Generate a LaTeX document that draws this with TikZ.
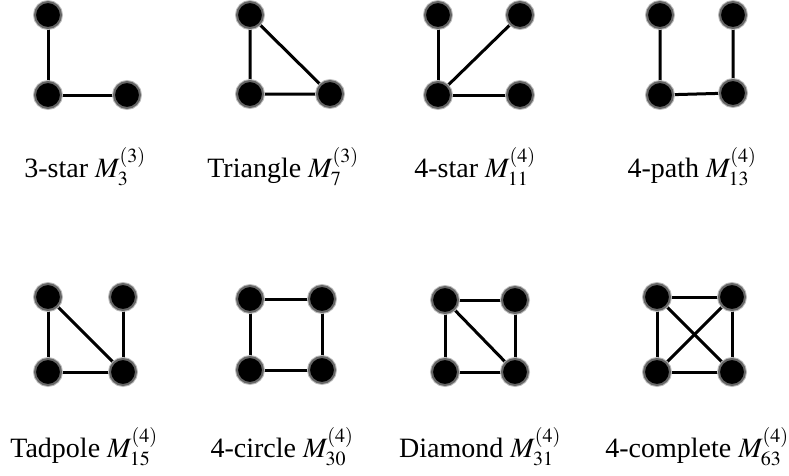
\documentclass[tikz,border=0pt]{standalone}
\usepackage{mathptmx}
\usepackage[no-math]{fontspec}
\setmainfont{Liberation Serif}
\DeclareMathSizes{28}{28}{20}{15}
\usetikzlibrary{backgrounds}
\tikzset{
  vtx/.style={circle, fill=black, draw=black!60, line width=2pt, minimum size=26pt, inner sep=0pt,
    preaction={draw=black!25, line width=4pt}},
  edg/.style={line width=3pt, black},
  lbl/.style={anchor=base, font=\fontsize{28}{32}\selectfont, inner sep=0pt}
}
\begin{document}
\begin{tikzpicture}[x=1pt, y=-1pt]
\useasboundingbox (0,0) rectangle (789,475);
% 3-star
\node[vtx] (a1) at (48,15) {};
\node[vtx] (a2) at (48,95) {};
\node[vtx] (a3) at (127,95) {};
\node[lbl] (la) at (85,177) {3-star $M_{3}^{(3)}$};
% Triangle
\node[vtx] (b1) at (250,15) {};
\node[vtx] (b2) at (250,94) {};
\node[vtx] (b3) at (330,94) {};
\node[lbl] (lb) at (283,177) {Triangle $M_{7}^{(3)}$};
% 4-star
\node[vtx] (c1) at (438,15) {};
\node[vtx] (c2) at (520,15) {};
\node[vtx] (c3) at (438,95) {};
\node[vtx] (c4) at (520,95) {};
\node[lbl] (lc) at (475,177) {4-star $M_{11}^{(4)}$};
% 4-path
\node[vtx] (d1) at (660,15) {};
\node[vtx] (d2) at (733,15) {};
\node[vtx] (d3) at (660,95) {};
\node[vtx] (d4) at (733,93) {};
\node[lbl] (ld) at (692,177) {4-path $M_{13}^{(4)}$};
% Tadpole
\node[vtx] (e1) at (48,297) {};
\node[vtx] (e2) at (123,297) {};
\node[vtx] (e3) at (48,372) {};
\node[vtx] (e4) at (123,372) {};
\node[lbl] (le) at (84,457) {Tadpole $M_{15}^{(4)}$};
% 4-circle
\node[vtx] (f1) at (250,299) {};
\node[vtx] (f2) at (322,299) {};
\node[vtx] (f3) at (250,370) {};
\node[vtx] (f4) at (322,370) {};
\node[lbl] (lf) at (282,457) {4-circle $M_{30}^{(4)}$};
% Diamond
\node[vtx] (g1) at (445,300) {};
\node[vtx] (g2) at (515,300) {};
\node[vtx] (g3) at (445,372) {};
\node[vtx] (g4) at (515,372) {};
\node[lbl] (lg) at (480,457) {Diamond $M_{31}^{(4)}$};
% 4-complete
\node[vtx] (h1) at (657,297) {};
\node[vtx] (h2) at (732,297) {};
\node[vtx] (h3) at (657,372) {};
\node[vtx] (h4) at (732,372) {};
\node[lbl] (lh) at (697,457) {4-complete $M_{63}^{(4)}$};
\begin{pgfonlayer}{background}
\draw[edg] (a1.center) -- (a2.center) -- (a3.center);
\draw[edg] (b1.center) -- (b2.center) -- (b3.center) -- (b1.center);
\draw[edg] (c1.center) -- (c3.center) -- (c4.center);
\draw[edg] (c3.center) -- (c2.center);
\draw[edg] (d1.center) -- (d3.center) -- (d4.center) -- (d2.center);
\draw[edg] (e1.center) -- (e3.center) -- (e4.center) -- (e2.center);
\draw[edg] (e1.center) -- (e4.center);
\draw[edg] (f1.center) -- (f2.center) -- (f4.center) -- (f3.center) -- (f1.center);
\draw[edg] (g1.center) -- (g2.center) -- (g4.center) -- (g3.center) -- (g1.center);
\draw[edg] (g1.center) -- (g4.center);
\draw[edg] (h1.center) -- (h2.center) -- (h4.center) -- (h3.center) -- (h1.center);
\draw[edg] (h1.center) -- (h4.center);
\draw[edg] (h2.center) -- (h3.center);
\end{pgfonlayer}
\end{tikzpicture}
\end{document}
